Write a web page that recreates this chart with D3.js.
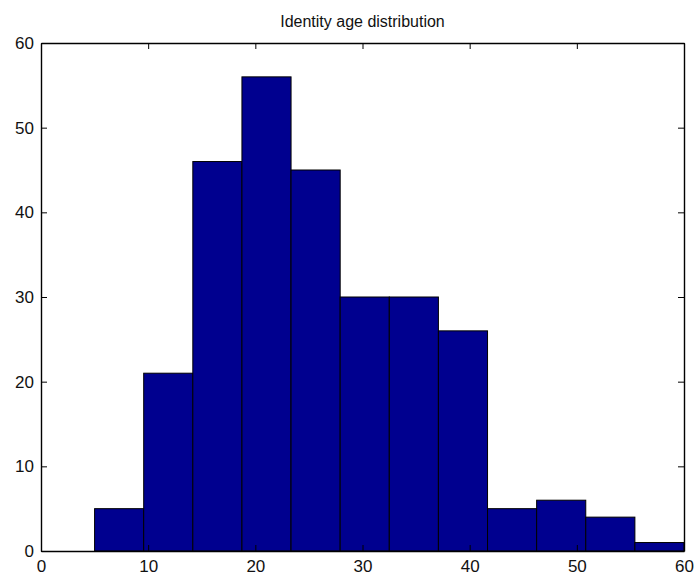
<!DOCTYPE html>
<html>
<head>
<meta charset="utf-8">
<script src="https://cdn.jsdelivr.net/npm/d3@7"></script>
<style>
  html, body { margin: 0; padding: 0; background: #fff; }
  svg { display: block; font-family: "Liberation Sans", Arial, Helvetica, sans-serif; }
</style>
</head>
<body>
<svg id="chart" width="697" height="576"></svg>
<script>
// Histogram of identity ages: 12 bins spanning 5..60
const binEdges = [5, 9.583, 14.167, 18.75, 23.333, 27.917, 32.5, 37.083, 41.667, 46.25, 50.833, 55.417, 60];
const counts = [5, 21, 46, 56, 45, 30, 30, 26, 5, 6, 4, 1];
const xTicks = [0, 10, 20, 30, 40, 50, 60];
const yTicks = [0, 10, 20, 30, 40, 50, 60];
const titleText = "Identity age distribution";

const svg = d3.select("#chart");
const margin = { left: 41, top: 43, right: 13, bottom: 25 };
const W = 697, H = 576;
const x0 = margin.left, x1 = W - margin.right;
const y0 = H - margin.bottom, y1 = margin.top;

const x = d3.scaleLinear().domain([0, 60]).range([x0, x1]);
const y = d3.scaleLinear().domain([0, 60]).range([y0, y1]);

const bins = counts.map((c, i) => ({ lo: binEdges[i], hi: binEdges[i + 1], n: c }));

// bars
svg.append("g")
  .selectAll("rect")
  .data(bins)
  .join("rect")
  .attr("x", d => x(d.lo))
  .attr("y", d => y(d.n))
  .attr("width", d => x(d.hi) - x(d.lo))
  .attr("height", d => y(0) - y(d.n))
  .attr("fill", "#00008f")
  .attr("stroke", "#000")
  .attr("stroke-width", 1);

// axes: bottom/left with labels, top/right close the box; all ticks point inward
const tickLen = 6;
const axisB = d3.axisBottom(x).tickValues(xTicks).tickSizeInner(-tickLen).tickSizeOuter(0).tickPadding(9);
const axisL = d3.axisLeft(y).tickValues(yTicks).tickSizeInner(-tickLen).tickSizeOuter(0).tickPadding(7);
const axisT = d3.axisTop(x).tickValues(xTicks).tickSizeInner(-tickLen).tickSizeOuter(0).tickFormat("");
const axisR = d3.axisRight(y).tickValues(yTicks).tickSizeInner(-tickLen).tickSizeOuter(0).tickFormat("");

function styleAxis(g) {
  g.select(".domain").attr("stroke", "#000").attr("stroke-width", 1.4);
  g.selectAll(".tick line").attr("stroke", "#000").attr("stroke-width", 1);
  g.selectAll(".tick text")
    .attr("fill", "#111")
    .style("font-size", "17px")
    .style("font-family", "'Liberation Sans', Arial, Helvetica, sans-serif");
}

svg.append("g").attr("transform", `translate(0,${y0})`).call(axisB).call(styleAxis);
svg.append("g").attr("transform", `translate(${x0},0)`).call(axisL).call(styleAxis);
svg.append("g").attr("transform", `translate(0,${y1})`).call(axisT).call(styleAxis);
svg.append("g").attr("transform", `translate(${x1},0)`).call(axisR).call(styleAxis);

// title
svg.append("text")
  .attr("x", (x0 + x1) / 2)
  .attr("y", 27)
  .attr("text-anchor", "middle")
  .attr("fill", "#111")
  .style("font-size", "16px")
  .text(titleText);
</script>
</body>
</html>
